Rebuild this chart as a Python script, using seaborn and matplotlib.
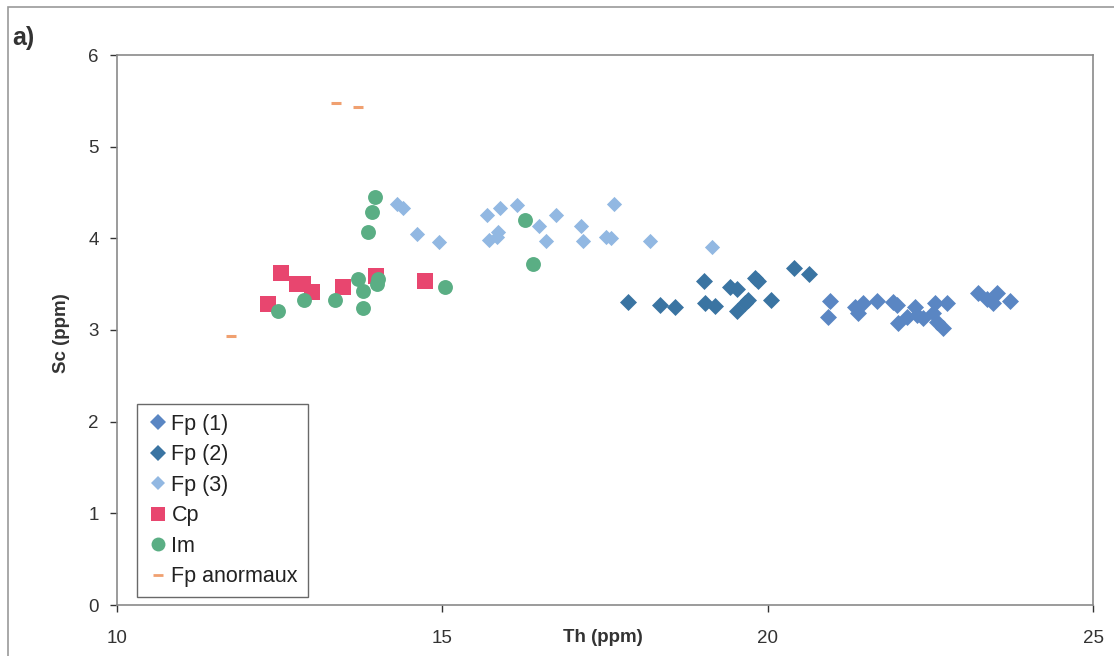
import numpy as np
import pandas as pd
import matplotlib
matplotlib.use("Agg")
import matplotlib.pyplot as plt
from matplotlib.patches import Rectangle
from matplotlib.lines import Line2D
import seaborn as sns

# ---- data ----
fp1_th = [20.96, 20.93, 21.34, 21.46, 21.39, 21.68, 21.93, 21.99, 22.00, 22.14, 22.26, 22.29,
          22.39, 22.57, 22.54, 22.60, 22.69, 22.75, 23.23, 23.37, 23.46, 23.52, 23.72]
fp1_sc = [3.32, 3.14, 3.25, 3.29, 3.19, 3.32, 3.31, 3.27, 3.08, 3.14, 3.25, 3.16,
          3.13, 3.29, 3.19, 3.09, 3.02, 3.29, 3.40, 3.34, 3.29, 3.40, 3.32]

fp2_th = [17.85, 18.34, 18.58, 19.02, 19.04, 19.19, 19.42, 19.53, 19.80, 19.85, 19.70, 19.65,
          19.53, 20.05, 20.40, 20.63]
fp2_sc = [3.31, 3.27, 3.25, 3.53, 3.29, 3.26, 3.47, 3.45, 3.57, 3.53, 3.33, 3.30,
          3.21, 3.33, 3.68, 3.61]

fp3_th = [14.30, 14.40, 14.61, 14.95, 15.69, 15.89, 16.15, 16.49, 16.75, 17.13, 17.64, 15.72,
          15.86, 15.84, 16.59, 17.16, 17.51, 17.59, 18.19, 19.14]
fp3_sc = [4.38, 4.33, 4.05, 3.96, 4.26, 4.33, 4.36, 4.13, 4.26, 4.14, 4.37, 3.98,
          4.07, 4.02, 3.97, 3.97, 4.01, 4.00, 3.97, 3.91]

cp_th = [12.52, 12.32, 12.77, 12.86, 13.00, 13.47, 13.98, 14.73]
cp_sc = [3.62, 3.28, 3.50, 3.50, 3.41, 3.47, 3.59, 3.53]

im_th = [13.96, 13.92, 13.86, 12.47, 12.87, 13.35, 13.70, 13.78, 14.01, 13.99, 13.78, 15.04,
         16.27, 16.39]
im_sc = [4.45, 4.29, 4.07, 3.21, 3.33, 3.33, 3.56, 3.43, 3.56, 3.50, 3.24, 3.47,
         4.20, 3.72]

anom_th = [13.37, 13.70, 11.75]
anom_sc = [5.48, 5.43, 2.93]

groups = ["Fp (1)", "Fp (2)", "Fp (3)", "Cp", "Im", "Fp anormaux"]
xticks = [10, 15, 20, 25]
yticks = [0, 1, 2, 3, 4, 5, 6]

# ---- styles ----
colors = {"Fp (1)": "#5a86c3", "Fp (2)": "#3a74a2", "Fp (3)": "#92b8e2",
          "Cp": "#e8466f", "Im": "#5aae84", "Fp anormaux": "#f0a070"}
markers = {"Fp (1)": "D", "Fp (2)": "D", "Fp (3)": "D", "Cp": "s", "Im": "o",
           "Fp anormaux": "_"}
sizes = {"Fp (1)": 75, "Fp (2)": 75, "Fp (3)": 60, "Cp": 120, "Im": 115, "Fp anormaux": 45}

data = {
    "Fp (1)": (fp1_th, fp1_sc), "Fp (2)": (fp2_th, fp2_sc), "Fp (3)": (fp3_th, fp3_sc),
    "Cp": (cp_th, cp_sc), "Im": (im_th, im_sc), "Fp anormaux": (anom_th, anom_sc),
}
df = pd.concat([pd.DataFrame({"Th": d[0], "Sc": d[1], "grp": g}) for g, d in data.items()],
               ignore_index=True)

sns.set_theme(style="white")
plt.rcParams["font.family"] = ["Liberation Sans", "DejaVu Sans"]

fig = plt.figure(figsize=(11.14, 6.56), dpi=100)
W, H = 1114, 656
ax = fig.add_axes([117 / W, 1 - 605 / H, (1093 - 117) / W, (605 - 55) / H])

for g in groups:
    sub = df[df["grp"] == g]
    kw = dict(linewidth=0)
    if g == "Fp anormaux":
        kw = dict(linewidth=2.2)
    sns.scatterplot(data=sub, x="Th", y="Sc", color=colors[g], marker=markers[g],
                    s=sizes[g], ax=ax, legend=False, zorder=3, **kw)

ax.set_xlim(10, 25)
ax.set_ylim(0, 6)
ax.set_xticks(xticks)
ax.set_yticks(yticks)
ax.tick_params(axis="both", labelsize=13.5, colors="#333333", length=5, width=1,
               direction="out", left=True, bottom=True)
ax.tick_params(axis="x", pad=13)
ax.tick_params(axis="y", pad=8)
for s in ax.spines.values():
    s.set_color("#8a8a8a")
    s.set_linewidth(1.2)

ax.set_xlabel("")
ax.set_ylabel("")
fig.text(62 / W, 1 - 333 / H, "Sc (ppm)", ha="center", va="center", rotation=90,
         fontsize=13.5, fontweight="bold", color="#333333")
fig.text(603 / W, 1 - 637 / H, "Th (ppm)", ha="center", va="center", fontsize=13.5,
         fontweight="bold", color="#333333")
fig.text(12 / W, 1 - 38 / H, "a)", ha="left", va="center", fontsize=18, fontweight="bold",
         color="#333333")

# outer frame
fig.patches.append(Rectangle((8 / W, -0.05), 1.2, 1 - 7 / H + 0.05, transform=fig.transFigure,
                             fill=False, edgecolor="#9a9a9a", linewidth=1.2))

handles = []
for g in groups:
    ms = {"D": 8, "s": 10, "o": 10, "_": 7}[markers[g]]
    if g == "Fp (3)":
        ms = 7
    handles.append(Line2D([], [], linestyle="none", marker=markers[g], color=colors[g],
                          markersize=ms, markeredgewidth=2 if g == "Fp anormaux" else 0))
leg = ax.legend(handles, groups, loc="lower left", bbox_to_anchor=(20 / 976, 8 / 550),
                frameon=True, fontsize=15.5, handlelength=1.05, handletextpad=0.1,
                labelspacing=0.44, borderpad=0.45, fancybox=False, borderaxespad=0)
leg.get_frame().set_edgecolor("#444444")
leg.get_frame().set_linewidth(1.0)
for t in leg.get_texts():
    t.set_color("#222222")

fig.savefig("out.png", dpi=100)
